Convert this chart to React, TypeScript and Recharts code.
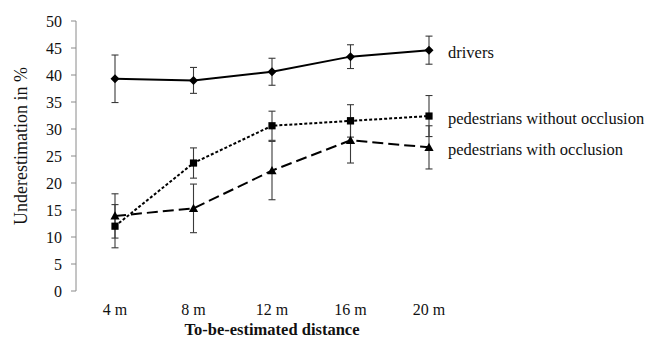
import { ErrorBar, LabelList, Line, LineChart, XAxis, YAxis } from 'recharts'

const distances = ['4 m', '8 m', '12 m', '16 m', '20 m']
const seriesNames = ['drivers', 'pedestrians without occlusion', 'pedestrians with occlusion']

const drivers = [39.3, 39.0, 40.6, 43.4, 44.6]
const driversErr = [4.4, 2.4, 2.5, 2.2, 2.6]
const pedNoOcc = [12.0, 23.7, 30.6, 31.5, 32.4]
const pedNoOccErr = [4.0, 2.8, 2.7, 3.0, 3.8]
const pedOcc = [13.9, 15.3, 22.3, 27.9, 26.6]
const pedOccErr = [4.1, 4.5, 5.4, 4.2, 4.0]

const yTicks = [0, 5, 10, 15, 20, 25, 30, 35, 40, 45, 50]
const frameTicks = [0, 1, 2, 3, 4, 5]

const rows = distances.map((dist, i) => ({
  dist,
  drivers: drivers[i],
  driversErr: driversErr[i],
  pedNoOcc: pedNoOcc[i],
  pedNoOccErr: pedNoOccErr[i],
  pedOcc: pedOcc[i],
  pedOccErr: pedOccErr[i],
}))

const FONT = '"Liberation Serif", "Times New Roman", serif'
const INK = '#111'
const AXIS = '#8a8a8a'

function Diamond(props: any) {
  const { cx, cy } = props
  if (cx == null || cy == null) return null
  const r = 4.5
  return (
    <polygon
      points={`${cx},${cy - r} ${cx + r},${cy} ${cx},${cy + r} ${cx - r},${cy}`}
      fill="#000"
    />
  )
}

function Square(props: any) {
  const { cx, cy } = props
  if (cx == null || cy == null) return null
  const h = 3.6
  return <rect x={cx - h} y={cy - h} width={h * 2} height={h * 2} fill="#000" />
}

function Triangle(props: any) {
  const { cx, cy } = props
  if (cx == null || cy == null) return null
  const r = 4.6
  return (
    <polygon
      points={`${cx},${cy - r} ${cx + r},${cy + r * 0.8} ${cx - r},${cy + r * 0.8}`}
      fill="#000"
    />
  )
}

function endLabel(name: string) {
  return (props: any) => {
    const { x, y, index } = props
    if (index !== distances.length - 1) return null
    return (
      <text
        x={x + 19}
        y={y + 2}
        fill={INK}
        fontSize={16.5}
        fontFamily={FONT}
        dominantBaseline="central"
      >
        {name}
      </text>
    )
  }
}

function YTitle(props: any) {
  const vb = props.viewBox
  const cx = vb.x + 21
  const cy = vb.y + vb.height / 2 - 10
  return (
    <text
      x={cx}
      y={cy}
      transform={`rotate(-90, ${cx}, ${cy})`}
      textAnchor="middle"
      dominantBaseline="central"
      fill={INK}
      fontSize={18}
      fontFamily={FONT}
    >
      Underestimation in %
    </text>
  )
}

export default function App() {
  return (
    <div
      style={{
        position: 'absolute',
        left: 0,
        top: 0,
        width: 646,
        height: 340,
        background: '#fff',
        fontFamily: FONT,
      }}
    >
      <LineChart
        width={646}
        height={340}
        data={rows}
        margin={{ top: 21, right: 178, bottom: 0, left: 0 }}
        style={{ fontFamily: FONT }}
      >
        <XAxis
          xAxisId="frame"
          type="number"
          domain={[0, 5]}
          ticks={frameTicks}
          allowDataOverflow
          height={0}
          tick={false}
          tickSize={5}
          axisLine={{ stroke: AXIS }}
          tickLine={{ stroke: AXIS }}
        />
        <XAxis
          xAxisId="cat"
          dataKey="dist"
          height={49}
          padding={{ left: 39, right: 39 }}
          axisLine={false}
          tickLine={false}
          tickSize={0}
          tickMargin={13}
          tick={{ fill: INK, fontSize: 16, fontFamily: FONT }}
          label={{
            value: 'To-be-estimated distance',
            position: 'insideBottom',
            offset: 5,
            fill: INK,
            fontSize: 16.5,
            fontWeight: 'bold',
            fontFamily: FONT,
          }}
        />
        <YAxis
          width={76}
          domain={[0, 50]}
          ticks={yTicks}
          interval={0}
          tickSize={5}
          tickMargin={9}
          axisLine={{ stroke: AXIS }}
          tickLine={{ stroke: AXIS }}
          tick={{ fill: INK, fontSize: 16, fontFamily: FONT }}
          label={<YTitle />}
        />
        <Line
          xAxisId="cat"
          dataKey="drivers"
          stroke="#000"
          strokeWidth={2}
          dot={<Diamond />}
          activeDot={false}
          isAnimationActive={false}
        >
          <ErrorBar dataKey="driversErr" direction="y" width={3.5} stroke="#3a3a3a" strokeWidth={1.1} isAnimationActive={false} />
          <LabelList dataKey="drivers" content={endLabel(seriesNames[0])} />
        </Line>
        <Line
          xAxisId="cat"
          dataKey="pedNoOcc"
          stroke="#000"
          strokeWidth={2}
          strokeDasharray="3 2"
          dot={<Square />}
          activeDot={false}
          isAnimationActive={false}
        >
          <ErrorBar dataKey="pedNoOccErr" direction="y" width={3.5} stroke="#3a3a3a" strokeWidth={1.1} isAnimationActive={false} />
          <LabelList dataKey="pedNoOcc" content={endLabel(seriesNames[1])} />
        </Line>
        <Line
          xAxisId="cat"
          dataKey="pedOcc"
          stroke="#000"
          strokeWidth={2}
          strokeDasharray="11 5"
          dot={<Triangle />}
          activeDot={false}
          isAnimationActive={false}
        >
          <ErrorBar dataKey="pedOccErr" direction="y" width={3.5} stroke="#3a3a3a" strokeWidth={1.1} isAnimationActive={false} />
          <LabelList dataKey="pedOcc" content={endLabel(seriesNames[2])} />
        </Line>
      </LineChart>
    </div>
  )
}
